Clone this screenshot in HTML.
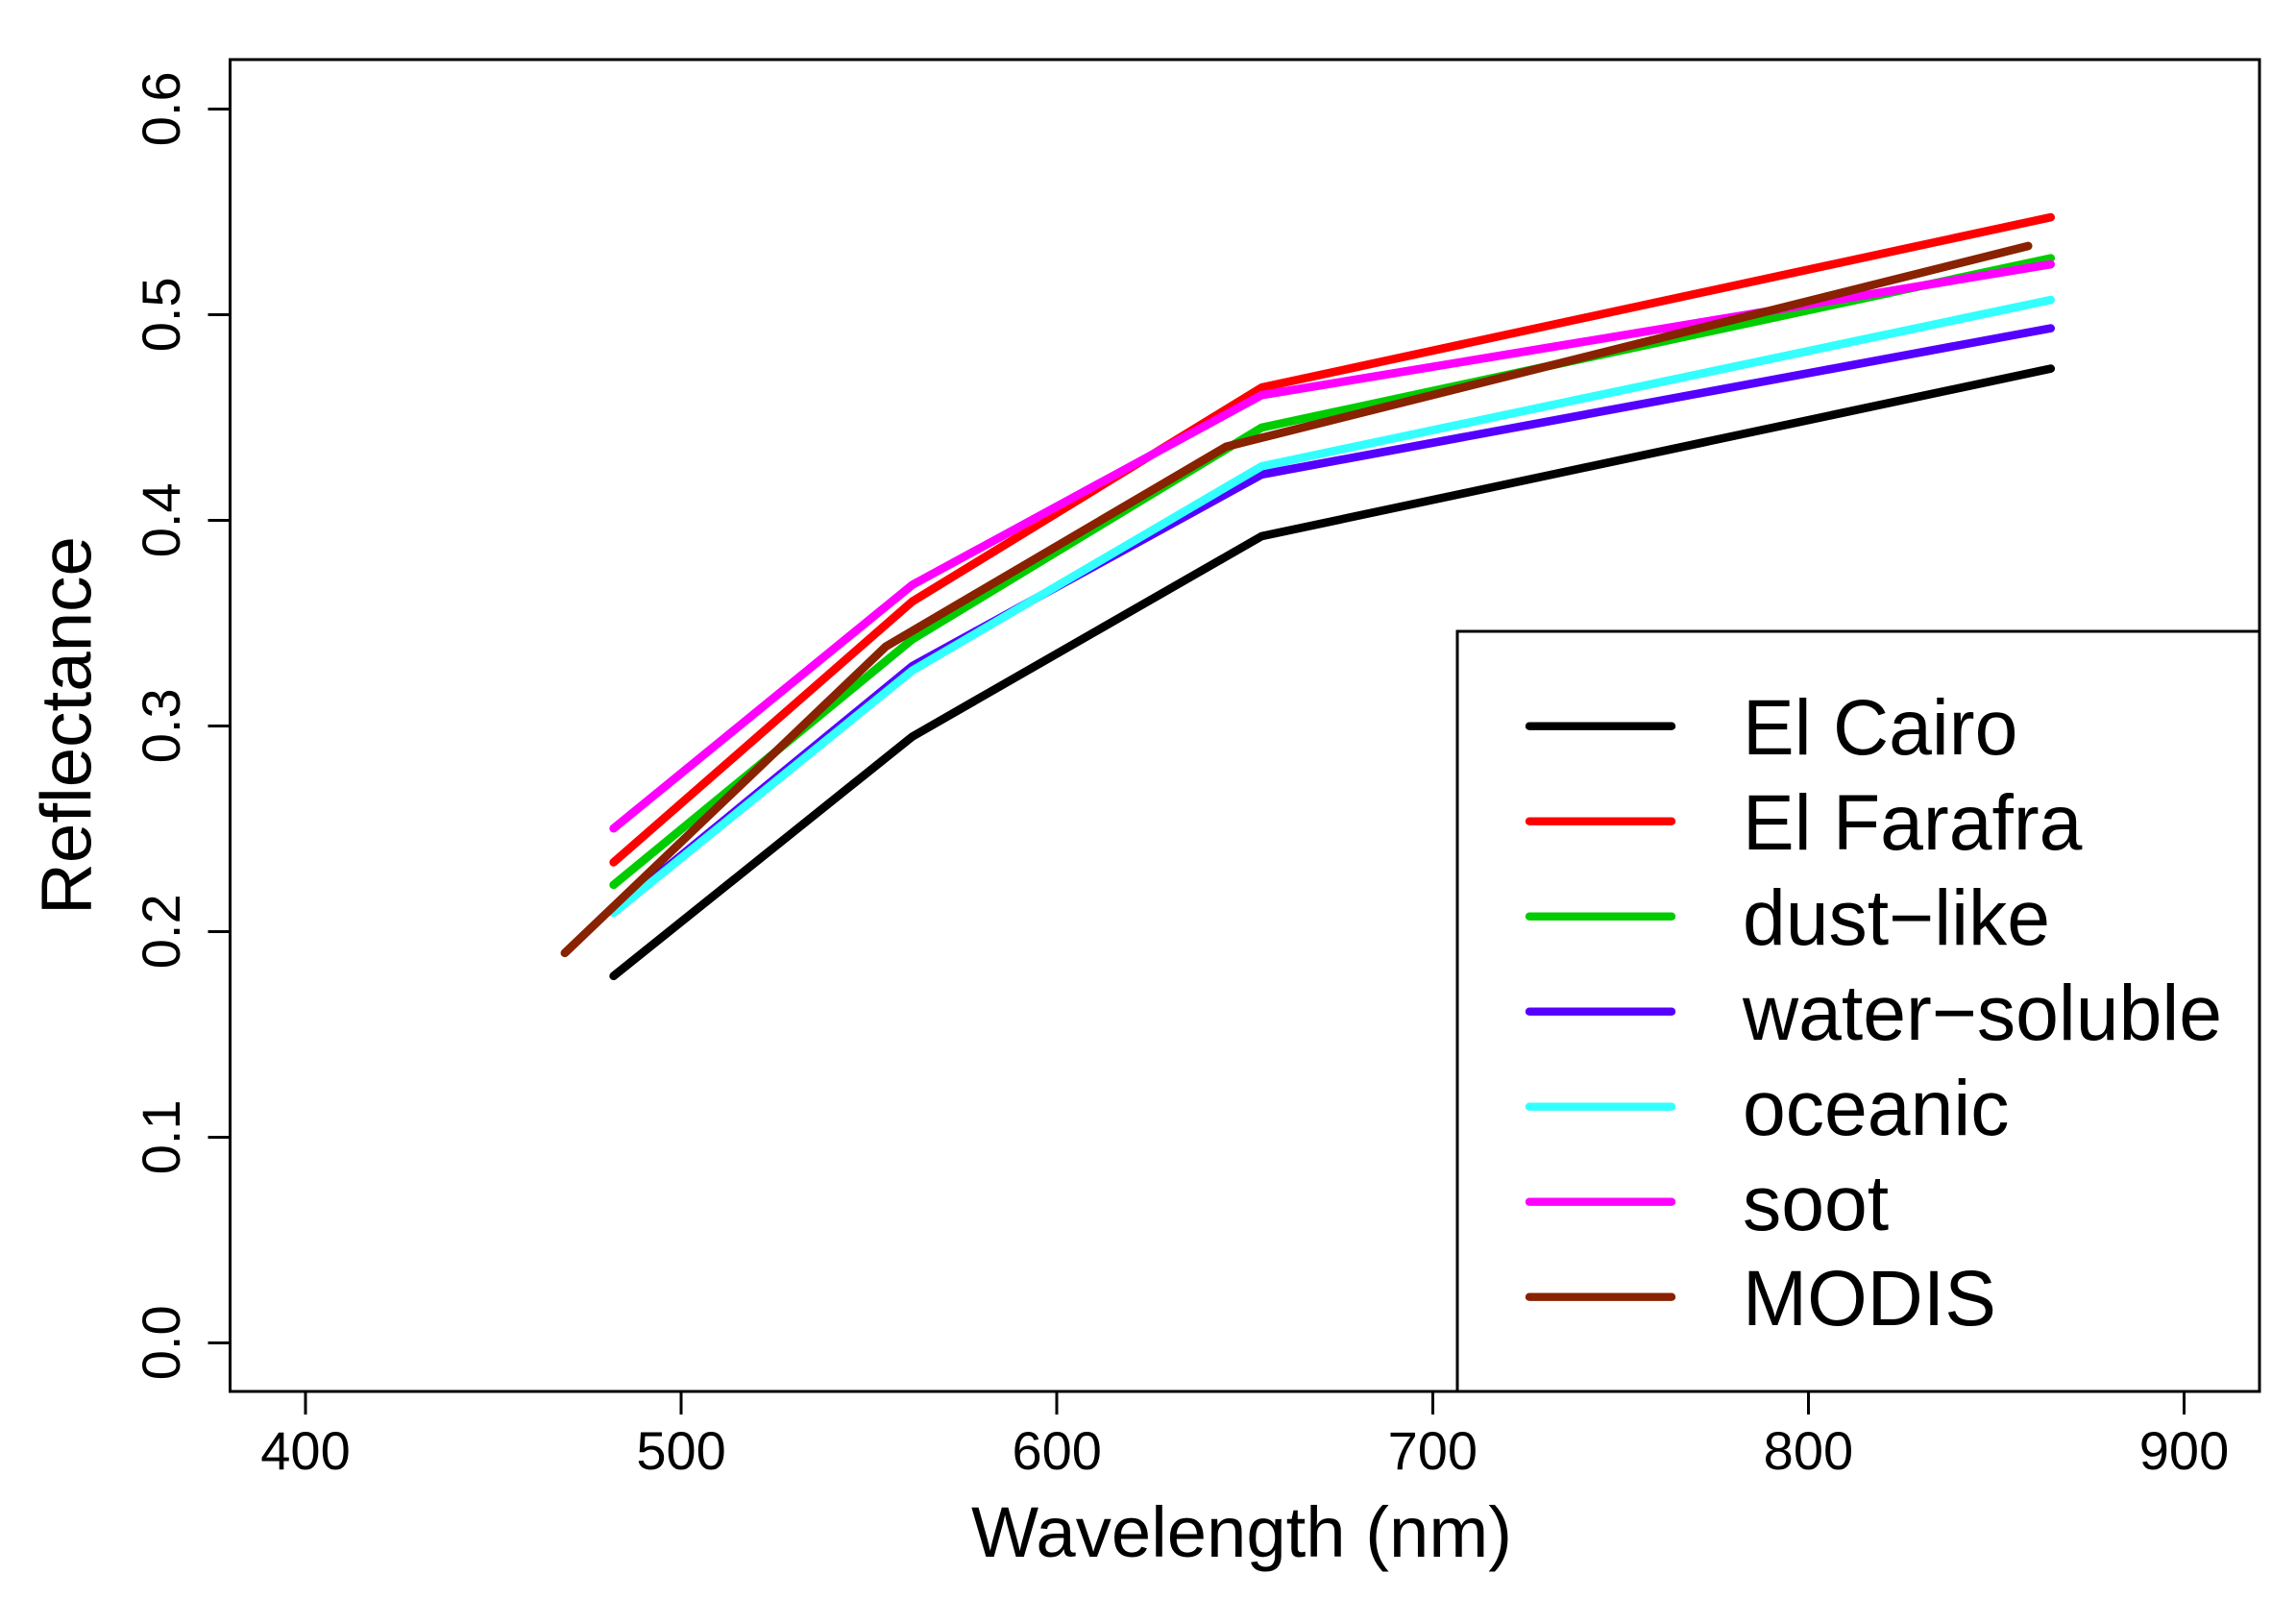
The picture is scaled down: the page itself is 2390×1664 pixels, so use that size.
<!DOCTYPE html>
<html>
<head>
<meta charset="utf-8">
<title>Reflectance vs Wavelength</title>
<style>
html,body{margin:0;padding:0;background:#fff;}
svg{display:block;}
text{font-family:"Liberation Sans",Arial,sans-serif;fill:#000;}
</style>
</head>
<body>
<svg id="chart" xmlns="http://www.w3.org/2000/svg" width="2390" height="1664" viewBox="0 0 2390 1664"></svg>
<script>
const xTickValues = [400, 500, 600, 700, 800, 900];
const yTickValues = [0.0, 0.1, 0.2, 0.3, 0.4, 0.5, 0.6];
const yTickLabels = ["0.0", "0.1", "0.2", "0.3", "0.4", "0.5", "0.6"];
const modelWavelengths = [482, 561.5, 654.5, 864.5];
const modisWavelengths = [469, 554.5, 645, 858.5];
const elCairo = [0.1783, 0.2947, 0.3922, 0.4737];
const elFarafra = [0.2336, 0.3604, 0.4645, 0.5473];
const dustLike = [0.2226, 0.342, 0.445, 0.5274];
const waterSoluble = [0.2100, 0.329, 0.4222, 0.4933];
const oceanic = [0.2090, 0.3268, 0.4262, 0.5071];
const soot = [0.2501, 0.3685, 0.4608, 0.5244];
const modis = [0.1895, 0.3386, 0.4357, 0.5333];
const seriesNames = ["El Cairo", "El Farafra", "dust\u2212like", "water\u2212soluble", "oceanic", "soot", "MODIS"];
const seriesKeys = ["el-cairo", "el-farafra", "dust-like", "water-soluble", "oceanic", "soot", "modis"];
const seriesColors = ["#000000", "#ff0000", "#00cc00", "#5500ff", "#33ffff", "#ff00ff", "#882200"];
const seriesValues = [elCairo, elFarafra, dustLike, waterSoluble, oceanic, soot, modis];
const seriesWavelengths = [modelWavelengths, modelWavelengths, modelWavelengths, modelWavelengths, modelWavelengths, modelWavelengths, modisWavelengths];

const NS = "http://www.w3.org/2000/svg";
const svg = document.getElementById("chart");
const plot = {left: 239.5, right: 2352, top: 62, bottom: 1448};
function xScale(w) { return 318 + (w - 400) * 3.911; }
function yScale(r) { return 1397.3 - r * 2140; }
function make(tag, attrs, parent) {
  const el = document.createElementNS(NS, tag);
  for (const k in attrs) el.setAttribute(k, attrs[k]);
  (parent || svg).appendChild(el);
  return el;
}

// series
seriesValues.forEach(function (vals, i) {
  const pts = vals.map(function (v, j) {
    return xScale(seriesWavelengths[i][j]).toFixed(1) + "," + yScale(v).toFixed(1);
  }).join(" ");
  const line = make("polyline", {points: pts, fill: "none", stroke: seriesColors[i], "stroke-width": 8.7, "stroke-linejoin": "round", "stroke-linecap": "round"});
  
  
});

// legend box
const legendBox = make("rect", {x: 1517, y: 657, width: 835, height: 791, fill: "#fff", stroke: "#000", "stroke-width": 3, "shape-rendering": "crispEdges"});


seriesNames.forEach(function (name, i) {
  const y = 755.7 + i * 99;
  const swatch = make("line", {x1: 1592, x2: 1740, y1: y, y2: y, stroke: seriesColors[i], "stroke-width": 8.4, "stroke-linecap": "round"});
  
  
  const label = make("text", {x: 0, y: 0, "font-size": 82, transform: "translate(1814 " + (785 + i * 99) + ") scale(0.982 1)"});
  label.textContent = name;
  
  
});

// plot frame
const frame = make("rect", {x: plot.left, y: plot.top, width: plot.right - plot.left, height: plot.bottom - plot.top, fill: "none", stroke: "#000", "stroke-width": 3, "shape-rendering": "crispEdges"});



// x axis
xTickValues.forEach(function (v) {
  const x = xScale(v);
  const tick = make("line", {x1: x, x2: x, y1: plot.bottom, y2: plot.bottom + 24, stroke: "#000", "stroke-width": 3, "shape-rendering": "crispEdges"});
  
  
  const label = make("text", {x: x, y: 1529, "font-size": 56, "text-anchor": "middle"});
  label.textContent = String(v);
  
  
});

// y axis
yTickValues.forEach(function (v, i) {
  const y = yScale(v);
  const tick = make("line", {x1: plot.left - 23, x2: plot.left, y1: y, y2: y, stroke: "#000", "stroke-width": 3, "shape-rendering": "crispEdges"});
  
  
  const label = make("text", {x: 0, y: 0, "font-size": 56, "text-anchor": "middle", transform: "translate(187 " + y + ") rotate(-90)"});
  label.textContent = yTickLabels[i];
  
  
});

// axis titles
const xTitle = make("text", {x: 1292.5, y: 1620, "font-size": 74.3, "text-anchor": "middle"});
xTitle.textContent = "Wavelength (nm)";


const yTitle = make("text", {x: 0, y: 0, "font-size": 74.6, "text-anchor": "middle", transform: "translate(94.5 755) rotate(-90)"});
yTitle.textContent = "Reflectance";


</script>
</body>
</html>
